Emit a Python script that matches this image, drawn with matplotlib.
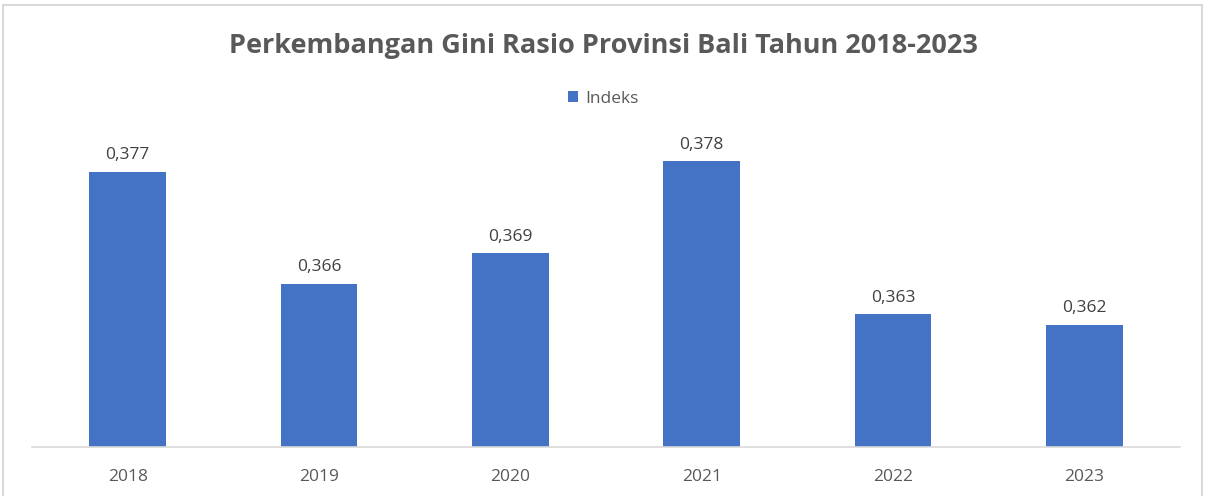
import matplotlib
matplotlib.use("Agg")
import matplotlib.pyplot as plt
from matplotlib.patches import Rectangle

years = ["2018", "2019", "2020", "2021", "2022", "2023"]
indeks = [0.377, 0.366, 0.369, 0.378, 0.363, 0.362]
labels = ["0,377", "0,366", "0,369", "0,378", "0,363", "0,362"]
title = "Perkembangan Gini Rasio Provinsi Bali Tahun 2018-2023"
series_name = "Indeks"

plt.rcParams['font.family'] = ['Open Sans', 'DejaVu Sans']

W, H = 1206, 496
fig = plt.figure(figsize=(W / 100, H / 100), dpi=100)
fig.patch.set_facecolor("white")

# outer chart frame
fig.patches.append(Rectangle((3 / W, -0.02), 1 - 7 / W, 1 - 5 / H + 0.02,
                             transform=fig.transFigure, fill=False,
                             edgecolor="#D9D9D9", linewidth=1.5))

ax = fig.add_axes([32 / W, 1 - 447 / H, (1180 - 32) / W, (447 - 141) / H])
x = list(range(len(years)))
bars = ax.bar(x, indeks, width=0.4, color="#4472C4", label=series_name, zorder=2)
ax.set_xlim(-0.5, len(years) - 0.5)
ax.set_ylim(0.35, 0.38)

for xi, v, lab in zip(x, indeks, labels):
    ax.annotate(lab, (xi, v), xytext=(0, 6), textcoords="offset points",
                ha="center", va="bottom", fontsize=12.5, color="#404040",
                annotation_clip=False)

ax.set_xticks(x)
ax.set_xticklabels(years, fontsize=12.5, color="#595959")
ax.tick_params(axis="x", length=0, pad=16)
ax.set_yticks([])
for s in ["top", "right", "left"]:
    ax.spines[s].set_visible(False)
ax.spines["bottom"].set_color("#D9D9D9")
ax.spines["bottom"].set_linewidth(1.2)
ax.set_facecolor("none")

fig.text(0.5, 1 - 46 / H, title, ha="center", va="center", fontsize=19.5,
         fontweight="bold", color="#595959")

fig.legend(handles=[bars], labels=[series_name], loc="center",
           bbox_to_anchor=(0.5, 1 - 99 / H), frameon=False, fontsize=12.5,
           handlelength=0.6, handleheight=0.6, handletextpad=0.4,
           labelcolor="#595959")

fig.savefig("out.png", dpi=100, facecolor="white")
